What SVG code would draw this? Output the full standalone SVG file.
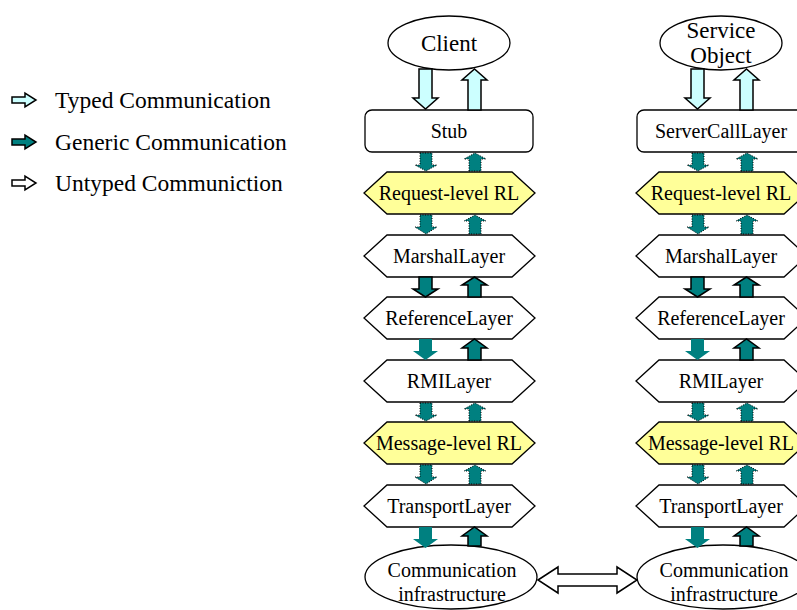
<svg xmlns="http://www.w3.org/2000/svg" width="797" height="610" viewBox="0 0 797 610">
<defs>
<style>
text{font-family:"Liberation Serif","Times New Roman",serif;fill:#000;text-anchor:middle}
.lg{font-size:23.5px;text-anchor:start}
.big{font-size:23px}
.lbl{font-size:20px}
.node{fill:#fff;stroke:#000;stroke-width:1.3}
.rl{fill:#FFFF99;stroke:#000;stroke-width:1.3}
.typed{fill:#CCFFFF;stroke:#000;stroke-width:1.5}
.gen{fill:#008080;stroke:#000;stroke-width:1.5}
.gen2{fill:#008080;stroke:none}
.dot{fill:#008080;stroke:#000;stroke-width:1;stroke-dasharray:1 1.5}
.unt{fill:#fff;stroke:#000;stroke-width:1.5}
</style>
</defs>

<g id="legend">
<path class="typed" d="M12,97 H25 V93 L36,100 L25,107 V103 H12 Z"/>
<text class="lg" x="55" y="108">Typed Communication</text>
<path class="gen" d="M12,139 H25 V135 L36,142 L25,149 V145 H12 Z"/>
<text class="lg" x="55" y="150">Generic Communication</text>
<path class="unt" d="M12,180 H25 V176 L36,183 L25,190 V186 H12 Z"/>
<text class="lg" x="55" y="191">Untyped Communiction</text>
</g>

<g id="left-client"><ellipse class="node" cx="449" cy="43" rx="61" ry="27"/><text class="big" x="449" y="51">Client</text></g>
<g id="left-stub"><rect class="node" x="365" y="110" width="168" height="42" rx="7"/><text class="lbl" x="449" y="138">Stub</text></g>
<g id="left-reqrl"><path class="rl" d="M364,193 L387,172 H512 L535,193 L512,214 H387 Z"/><text class="lbl" x="449" y="200">Request-level RL</text></g>
<g id="left-marshal"><path class="node" d="M364,256 L387,235 H512 L535,256 L512,277 H387 Z"/><text class="lbl" x="449" y="263">MarshalLayer</text></g>
<g id="left-reference"><path class="node" d="M364,318 L387,297 H512 L535,318 L512,339 H387 Z"/><text class="lbl" x="449" y="325">ReferenceLayer</text></g>
<g id="left-rmi"><path class="node" d="M364,381 L387,360 H512 L535,381 L512,402 H387 Z"/><text class="lbl" x="449" y="388">RMILayer</text></g>
<g id="left-msgrl"><path class="rl" d="M364,443 L387,422 H512 L535,443 L512,464 H387 Z"/><text class="lbl" x="449" y="450">Message-level RL</text></g>
<g id="left-transport"><path class="node" d="M364,506 L387,485 H512 L535,506 L512,527 H387 Z"/><text class="lbl" x="449" y="513">TransportLayer</text></g>
<g id="left-comm"><ellipse class="node" cx="451" cy="577" rx="86" ry="32"/><text class="lbl" x="452" y="577">Communication</text><text class="lbl" x="452" y="601">infrastructure</text></g>

<g id="right-service"><ellipse class="node" cx="721" cy="43" rx="61" ry="27"/><text class="big" x="721" y="38">Service</text><text class="big" x="721" y="63">Object</text></g>
<g id="right-servercall"><rect class="node" x="637" y="110" width="168" height="42" rx="7"/><text class="lbl" x="721" y="138">ServerCallLayer</text></g>
<g id="right-reqrl"><path class="rl" d="M636,193 L659,172 H784 L807,193 L784,214 H659 Z"/><text class="lbl" x="721" y="200">Request-level RL</text></g>
<g id="right-marshal"><path class="node" d="M636,256 L659,235 H784 L807,256 L784,277 H659 Z"/><text class="lbl" x="721" y="263">MarshalLayer</text></g>
<g id="right-reference"><path class="node" d="M636,318 L659,297 H784 L807,318 L784,339 H659 Z"/><text class="lbl" x="721" y="325">ReferenceLayer</text></g>
<g id="right-rmi"><path class="node" d="M636,381 L659,360 H784 L807,381 L784,402 H659 Z"/><text class="lbl" x="721" y="388">RMILayer</text></g>
<g id="right-msgrl"><path class="rl" d="M636,443 L659,422 H784 L807,443 L784,464 H659 Z"/><text class="lbl" x="721" y="450">Message-level RL</text></g>
<g id="right-transport"><path class="node" d="M636,506 L659,485 H784 L807,506 L784,527 H659 Z"/><text class="lbl" x="721" y="513">TransportLayer</text></g>
<g id="right-comm"><ellipse class="node" cx="723" cy="577" rx="86" ry="32"/><text class="lbl" x="724" y="577">Communication</text><text class="lbl" x="724" y="601">infrastructure</text></g>

<g id="connectors">
<g id="left-arrows">
<path class="typed" d="M419,69 H432 V98 H438 L425.5,109 L413,98 H419 Z"/>
<path class="typed" d="M468,110 V80 H462 L474.5,69 L487,80 H481 V110 Z"/>
<path class="dot" d="M420,153 H432 V165 H437 L426,171 L415,165 H420 Z"/>
<path class="dot" d="M469,171 V159 H464 L475,153 L486,159 H481 V171 Z"/>
<path class="dot" d="M420,215 H432 V227 H437 L426,234 L415,227 H420 Z"/>
<path class="dot" d="M469,234 V221 H464 L475,215 L486,221 H481 V234 Z"/>
<path class="gen" d="M419,277 H432 V289 H438 L425.5,297 L413,289 H419 Z"/>
<path class="gen" d="M468,297 V285 H462 L474.5,277 L487,285 H481 V297 Z"/>
<path class="gen2" d="M419,339 H432 V351 H438 L425.5,360 L413,351 H419 Z"/>
<path class="gen" d="M468,360 V348 H462 L474.5,339 L487,348 H481 V360 Z"/>
<path class="dot" d="M420,403 H432 V415 H437 L426,421 L415,415 H420 Z"/>
<path class="dot" d="M469,421 V409 H464 L475,403 L486,409 H481 V421 Z"/>
<path class="dot" d="M420,465 H432 V477 H437 L426,484 L415,477 H420 Z"/>
<path class="dot" d="M469,484 V471 H464 L475,465 L486,471 H481 V484 Z"/>
<path class="gen2" d="M419,527 H432 V539 H438 L425.5,548 L413,539 H419 Z"/>
<path class="gen" d="M468,546 V536 H462 L474.5,527 L487,536 H481 V546 Z"/>
</g>
<g id="right-arrows" transform="translate(272,0)">
<path class="typed" d="M419,69 H432 V98 H438 L425.5,109 L413,98 H419 Z"/>
<path class="typed" d="M468,110 V80 H462 L474.5,69 L487,80 H481 V110 Z"/>
<path class="dot" d="M420,153 H432 V165 H437 L426,171 L415,165 H420 Z"/>
<path class="dot" d="M469,171 V159 H464 L475,153 L486,159 H481 V171 Z"/>
<path class="dot" d="M420,215 H432 V227 H437 L426,234 L415,227 H420 Z"/>
<path class="dot" d="M469,234 V221 H464 L475,215 L486,221 H481 V234 Z"/>
<path class="gen" d="M419,277 H432 V289 H438 L425.5,297 L413,289 H419 Z"/>
<path class="gen" d="M468,297 V285 H462 L474.5,277 L487,285 H481 V297 Z"/>
<path class="gen2" d="M419,339 H432 V351 H438 L425.5,360 L413,351 H419 Z"/>
<path class="gen" d="M468,360 V348 H462 L474.5,339 L487,348 H481 V360 Z"/>
<path class="dot" d="M420,403 H432 V415 H437 L426,421 L415,415 H420 Z"/>
<path class="dot" d="M469,421 V409 H464 L475,403 L486,409 H481 V421 Z"/>
<path class="dot" d="M420,465 H432 V477 H437 L426,484 L415,477 H420 Z"/>
<path class="dot" d="M469,484 V471 H464 L475,465 L486,471 H481 V484 Z"/>
<path class="gen2" d="M419,527 H432 V539 H438 L425.5,548 L413,539 H419 Z"/>
<path class="gen" d="M468,546 V536 H462 L474.5,527 L487,536 H481 V546 Z"/>
</g>
<path id="infra-link" class="unt" d="M538,580 L558,567 V574 H617 V567 L637,580 L617,593 V586 H558 V593 Z"/>
</g>
</svg>
